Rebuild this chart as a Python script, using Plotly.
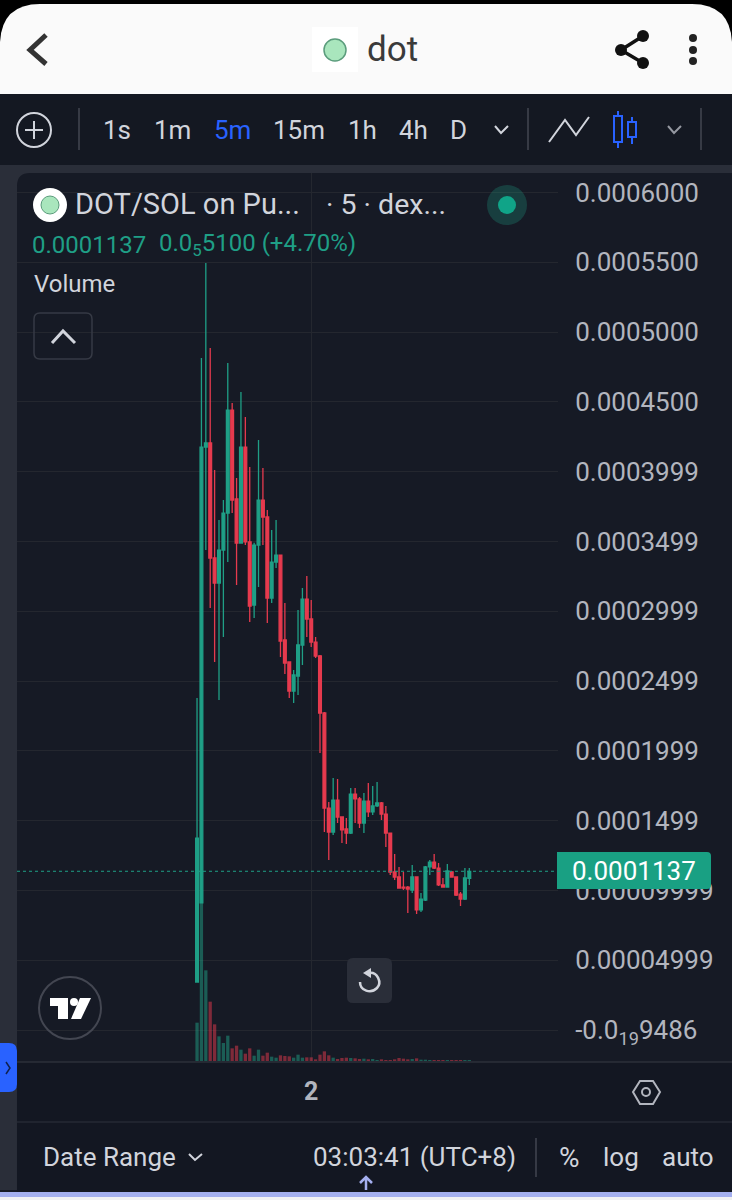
import re

import pandas as pd
import plotly.graph_objects as go

WIDTH = 732
HEIGHT = 1200

# 5 minute candles
opens = [0.0000344, 0.0000910, 0.0004176, 0.0004205, 0.0003381, 0.0003202, 0.0003438, 0.0003703, 0.0004441,
         0.0003804, 0.0003488, 0.0004176, 0.0003496, 0.0003044, 0.0003474, 0.0003796, 0.0003675, 0.0003094,
         0.0003352, 0.0003402, 0.0002794, 0.0002636, 0.0002428, 0.0002536, 0.0002758, 0.0003087, 0.0002944,
         0.0002779, 0.0002679, 0.0002271, 0.0001590, 0.0001418, 0.0001647, 0.0001526, 0.0001440, 0.0001411,
         0.0001690, 0.0001655, 0.0001483, 0.0001640, 0.0001562, 0.0001605, 0.0001626, 0.0001547, 0.0001411,
         0.0001132, 0.0001096, 0.0001024, 0.0001024, 0.0001003, 0.0001096, 0.0000860, 0.0000931, 0.0001168,
         0.0001203, 0.0001160, 0.0001039, 0.0001024, 0.0001132, 0.0001096, 0.0000974, 0.0000938, 0.0001086]
highs = [0.0002378, 0.0004814, 0.0005494, 0.0004885, 0.0004011, 0.0003653, 0.0003796, 0.0004778, 0.0004491,
         0.0003954, 0.0004570, 0.0004391, 0.0004033, 0.0003490, 0.0004226, 0.0004026, 0.0003725, 0.0003582,
         0.0003653, 0.0003402, 0.0003059, 0.0002636, 0.0002579, 0.0003008, 0.0003166, 0.0003252, 0.0003080,
         0.0002815, 0.0002686, 0.0002278, 0.0001633, 0.0001805, 0.0001798, 0.0001526, 0.0001519, 0.0001733,
         0.0001733, 0.0001669, 0.0001698, 0.0001769, 0.0001748, 0.0001776, 0.0001633, 0.0001605, 0.0001411,
         0.0001261, 0.0001168, 0.0001132, 0.0001031, 0.0001182, 0.0001096, 0.0000981, 0.0001175, 0.0001218,
         0.0001261, 0.0001196, 0.0001089, 0.0001189, 0.0001139, 0.0001096, 0.0000989, 0.0001160, 0.0001160]
lows = [0.0000344, 0.0000910, 0.0003438, 0.0003023, 0.0002636, 0.0002364, 0.0002815, 0.0003352, 0.0003703,
        0.0003188, 0.0003488, 0.0003474, 0.0002923, 0.0002951, 0.0003173, 0.0003474, 0.0002915, 0.0003059,
        0.0003309, 0.0002672, 0.0002550, 0.0002378, 0.0002342, 0.0002400, 0.0002615, 0.0002815, 0.0002743,
        0.0002665, 0.0001984, 0.0001418, 0.0001218, 0.0001397, 0.0001483, 0.0001339, 0.0001332, 0.0001404,
        0.0001483, 0.0001447, 0.0001411, 0.0001526, 0.0001540, 0.0001597, 0.0001504, 0.0001311, 0.0001110,
        0.0001074, 0.0001017, 0.0001003, 0.0000838, 0.0000981, 0.0000831, 0.0000845, 0.0000924, 0.0001110,
        0.0001153, 0.0001032, 0.0001020, 0.0001020, 0.0001090, 0.0000960, 0.0000888, 0.0000931, 0.0001039]
closes = [0.0001375, 0.0004176, 0.0004205, 0.0003381, 0.0003202, 0.0003438, 0.0003703, 0.0004441, 0.0003796,
          0.0003488, 0.0004176, 0.0003496, 0.0003037, 0.0003474, 0.0003796, 0.0003675, 0.0003094, 0.0003352,
          0.0003402, 0.0002786, 0.0002629, 0.0002428, 0.0002543, 0.0002758, 0.0003087, 0.0002944, 0.0002779,
          0.0002679, 0.0002271, 0.0001590, 0.0001418, 0.0001647, 0.0001526, 0.0001433, 0.0001411, 0.0001690,
          0.0001655, 0.0001483, 0.0001640, 0.0001562, 0.0001605, 0.0001626, 0.0001547, 0.0001411, 0.0001132,
          0.0001096, 0.0001017, 0.0001017, 0.0001010, 0.0001096, 0.0000860, 0.0000938, 0.0001168, 0.0001203,
          0.0001160, 0.0001039, 0.0001024, 0.0001139, 0.0001096, 0.0000967, 0.0000938, 0.0001089, 0.0001137]
volumes = [115, 513, 272, 178, 110, 74, 54, 76, 38, 46, 34, 22, 38, 16, 34, 16, 25, 13, 10, 17, 15, 14, 10, 19, 10,
           11, 11, 5, 19, 29, 17, 10, 6, 9, 10, 9, 8, 6, 7, 5, 6, 3, 5, 3, 3, 5, 9, 7, 5, 6, 8, 4, 4, 3, 3, 3, 3, 3,
           3, 3, 3, 3, 3]
times = pd.date_range("2024-11-01 21:50", periods=len(opens), freq="5min")

price_ticks = [0.0006, 0.00055, 0.0005, 0.00045, 0.0004, 0.00035, 0.0003, 0.00025, 0.0002, 0.00015, 0.0001, 0.00005, 0]
price_labels = ["0.0006000", "0.0005500", "0.0005000", "0.0004500", "0.0003999", "0.0003499", "0.0002999",
                "0.0002499", "0.0001999", "0.0001499", "0.00009999", "0.00004999", "-0.0<sub>19</sub>9486"]
last_price = 0.0001137
intervals = ["1s", "1m", "5m", "15m", "1h", "4h", "D"]
interval_xs = [117, 172, 232, 299, 362, 413, 458]

BG = "#161a25"
PANEL = "#141822"
STRIP = "#2a2e39"
GRID = "#24272f"
TEXT = "#d1d4dc"
AXIS_TEXT = "#b2b5be"
GREEN = "#1f9f86"
RED = "#e63a4e"
BLUE = "#2962ff"
TOKEN = "#a9e6bd"


def px(x, y):
    return x / WIDTH, 1 - y / HEIGHT


def path(d, fill=None, stroke=None, width=2, layer="above"):
    # d is an svg path written in screen pixels
    def conv(m):
        x, y = px(float(m.group(1)), float(m.group(2)))
        return f"{x:.5f},{y:.5f}"

    return dict(type="path", xref="paper", yref="paper", path=re.sub(r"(-?[\d.]+),(-?[\d.]+)", conv, d),
                fillcolor=fill or "rgba(0,0,0,0)", line=dict(color=stroke or "rgba(0,0,0,0)", width=width),
                layer=layer)


def rect(x0, y0, x1, y1, fill, layer="above"):
    return path(f"M{x0},{y0} L{x1},{y0} L{x1},{y1} L{x0},{y1} Z", fill=fill, layer=layer)


def circle(cx, cy, r, fill=None, stroke=None, width=2):
    x0, y0 = px(cx - r, cy + r)
    x1, y1 = px(cx + r, cy - r)
    return dict(type="circle", xref="paper", yref="paper", x0=x0, y0=y0, x1=x1, y1=y1,
                fillcolor=fill or "rgba(0,0,0,0)", line=dict(color=stroke or "rgba(0,0,0,0)", width=width),
                layer="above")


def label(x, y, text, size=25, color=TEXT, anchor="left", weight=None):
    lx, ly = px(x, y)
    font = dict(family="Roboto", size=size, color=color)
    if weight:
        font["weight"] = weight
    return dict(xref="paper", yref="paper", x=lx, y=ly, text=text, showarrow=False, xanchor=anchor,
                yanchor="middle", font=font, borderpad=0, borderwidth=0)


volume_colors = ["rgba(31,159,134,0.5)" if c >= o else "rgba(230,58,78,0.5)" for o, c in zip(opens, closes)]

fig = go.Figure()
fig.add_trace(go.Bar(x=times, y=volumes, width=225000, marker=dict(color=volume_colors, line=dict(width=0)),
                     yaxis="y", showlegend=False, hoverinfo="skip"))
fig.add_trace(go.Candlestick(x=times, open=opens, high=highs, low=lows, close=closes, yaxis="y2", showlegend=False,
                             increasing=dict(line=dict(color=GREEN, width=1.3), fillcolor=GREEN),
                             decreasing=dict(line=dict(color=RED, width=1.3), fillcolor=RED)))

shapes = [
    # background panels
    rect(0, 94, 732, 165, PANEL, layer="below"),
    path("M0,165 L732,165 L732,173 L30,173 Q17,173 17,186 L17,1190 L0,1190 Z", fill=STRIP, layer="below"),
    rect(17, 1062, 732, 1192, "#131722", layer="below"),
    # phone header
    rect(0, 0, 732, 94, "#000000"),
    path("M0,94 L0,42 Q2,4 40,4 L692,4 Q730,4 732,42 L732,94 Z", fill="#fafafa"),
    rect(312, 27, 358, 72, "#ffffff"),
    circle(335, 50, 11, fill=TOKEN, stroke="#5b9c7c", width=1.5),
    path("M46,35 L30,50 L46,64", stroke="#333333", width=5),
    path("M643,36 L621,50 L643,63", stroke="#111111", width=3.5),
    circle(643, 36, 6, fill="#111111"),
    circle(621, 50, 6, fill="#111111"),
    circle(643, 63, 6, fill="#111111"),
    circle(693, 38, 4, fill="#222222"),
    circle(693, 50, 4, fill="#222222"),
    circle(693, 61, 4, fill="#222222"),
    # toolbar
    circle(34, 130, 17, stroke=TEXT, width=2),
    path("M25,130 L43,130 M34,121 L34,139", stroke=TEXT, width=2),
    path("M79,108 L79,150 M528,108 L528,150 M701,108 L701,150", stroke="#434651", width=1.5),
    path("M495,126 L501,133 L508,126", stroke=TEXT, width=2),
    path("M668,126 L674,133 L681,126", stroke="#9598a1", width=2),
    path("M549,142 L565,120 L576,135 L589,117", stroke=TEXT, width=2),
    path("M618,111 L618,116 M618,142 L618,148 M632,117 L632,122 M632,137 L632,144", stroke=BLUE, width=2),
    path("M614,116 L622,116 L622,142 L614,142 Z M628,122 L636,122 L636,137 L628,137 Z", stroke=BLUE, width=2),
    # legend
    circle(50, 205, 17, fill="#ffffff"),
    circle(50, 205, 9, fill=TOKEN, stroke="#5b9c7c", width=1),
    circle(507, 205, 20, fill="rgba(31,159,134,0.28)"),
    circle(507, 205, 9, fill="#10a488"),
    path("M40,313 L86,313 Q92,313 92,319 L92,353 Q92,359 86,359 L40,359 Q34,359 34,353 L34,319 Q34,313 40,313 Z",
         stroke="#363a45", width=1.5),
    path("M52,343 L63,331 L75,343", stroke=TEXT, width=3),
    # tradingview badge
    circle(70, 1008, 31, stroke="#434651", width=2),
    path("M50,998 L68,998 L68,1019 L58,1019 L58,1006 L50,1006 Z", fill="#ffffff"),
    circle(74, 1002, 4, fill="#ffffff"),
    path("M80,998 L91,998 L81,1019 L71,1019 Z", fill="#ffffff"),
    # reset button
    path("M353,958 L386,958 Q392,958 392,964 L392,997 Q392,1003 386,1003 L353,1003 Q347,1003 347,997 "
         "L347,964 Q347,958 353,958 Z", fill=STRIP),
    path("M368,973 C378,971 382,983 377,988 C371,994 360,991 360,982", stroke=TEXT, width=2.5),
    path("M363,973 L371,968 L371,978 Z", fill=TEXT),
    # side tab
    path("M0,1043 L9,1043 Q17,1043 17,1051 L17,1084 Q17,1092 9,1092 L0,1092 Z", fill=BLUE),
    path("M6,1062 L10,1068 L6,1074", stroke="#10214f", width=1.5),
    # axis lines and settings icon
    path("M17,1062 L732,1062", stroke="#2c303a", width=1.5),
    path("M17,1122 L732,1122", stroke="#262a34", width=1.5),
    path("M633,1092 L640,1081 L653,1081 L660,1092 L653,1104 L640,1104 Z", stroke=AXIS_TEXT, width=2),
    circle(646, 1092, 4, stroke=AXIS_TEXT, width=2),
    # bottom bar
    path("M536,1138 L536,1177", stroke="#434651", width=1.5),
    path("M189,1154 L195,1160 L202,1154", stroke=TEXT, width=2),
    rect(0, 1192, 732, 1197, "#a4afef"),
    rect(0, 1197, 732, 1200, "#f1f1f4"),
    path("M366,1190 L366,1177 M360,1183 L366,1177 L372,1183", stroke="#a4afef", width=2.5),
    # last price line and tag
    dict(type="line", xref="paper", yref="y2", x0=17 / WIDTH, x1=557 / WIDTH, y0=last_price, y1=last_price,
         line=dict(color=GREEN, width=1, dash="dot"), layer="above"),
    path("M557,852 L707,852 Q711,852 711,856 L711,885 Q711,889 707,889 L557,889 Z", fill="#19a083"),
]

annotations = [
    label(367, 50, "dot", size=35, color="#3a3a3a"),
    label(75, 204, "DOT/SOL on Pu...", size=29),
    label(326, 204, "· 5 · dex...", size=28.5),
    label(32, 245, "0.0001137", size=24, color=GREEN),
    label(159, 245, "0.0<sub>5</sub>5100 (+4.70%)", size=24, color=GREEN),
    label(34, 284, "Volume", size=24),
    label(634, 871, "0.0001137", size=26, color="#ffffff", anchor="center"),
    label(43, 1157, "Date Range", size=26),
    label(313, 1157, "03:03:41 (UTC+8)", size=26),
    label(569, 1157, "%", size=28, anchor="center"),
    label(621, 1157, "log", size=26, anchor="center"),
    label(688, 1157, "auto", size=26, anchor="center"),
]
for name, x in zip(intervals, interval_xs):
    annotations.append(label(x, 130, name, size=26, color=BLUE if name == "5m" else TEXT, anchor="center"))

fig.update_layout(
    width=WIDTH,
    height=HEIGHT,
    margin=dict(l=0, r=0, t=0, b=0),
    paper_bgcolor=BG,
    plot_bgcolor="rgba(0,0,0,0)",
    showlegend=False,
    boxgap=0.1,
    shapes=shapes,
    annotations=annotations,
    xaxis=dict(
        domain=[17 / WIDTH, 558 / WIDTH],
        range=["2024-11-01 18:25", "2024-11-02 04:41"],
        tickvals=[pd.Timestamp("2024-11-02")],
        ticktext=["2"],
        tickfont=dict(family="Roboto", size=25, color=AXIS_TEXT, weight="bold"),
        ticks="outside",
        ticklen=8,
        tickcolor="rgba(0,0,0,0)",
        showgrid=True,
        gridcolor=GRID,
        zeroline=False,
        rangeslider=dict(visible=False),
    ),
    yaxis=dict(
        domain=[1 - 1061 / HEIGHT, 1 - 173 / HEIGHT],
        range=[0, 2664],
        visible=False,
    ),
    yaxis2=dict(
        overlaying="y",
        side="right",
        range=[-0.0000222, 0.0006139],
        tickvals=price_ticks,
        ticktext=price_labels,
        tickfont=dict(family="Roboto", size=26, color=AXIS_TEXT),
        ticks="outside",
        ticklen=11,
        tickcolor="rgba(0,0,0,0)",
        showgrid=True,
        gridcolor=GRID,
        zeroline=False,
        showline=False,
    ),
)

fig.write_html("out.html", config=dict(displayModeBar=False),
               post_script="document.body.style.margin='0';document.body.style.overflow='hidden';")
